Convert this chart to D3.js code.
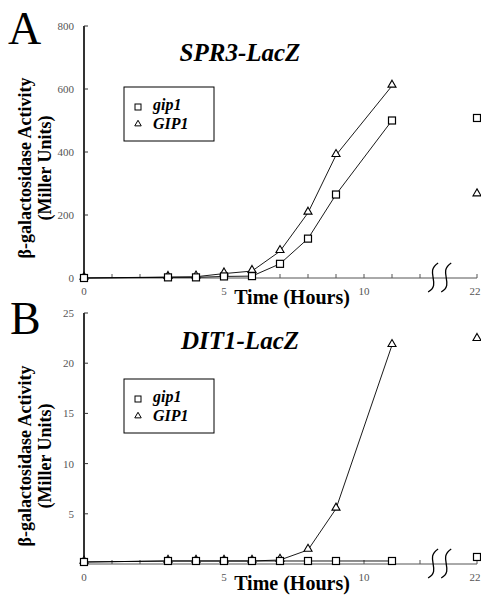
<!DOCTYPE html>
<html>
<head>
<meta charset="utf-8">
<script src="https://cdn.jsdelivr.net/npm/d3@7"></script>
<style>
  body { margin: 0; background: #fff; }
  svg { display: block; }
  svg text { font-family: "Liberation Serif", "DejaVu Serif", serif; }
  .tick-label { font-size: 11px; fill: #555; }
</style>
</head>
<body>
<div id="chart"></div>
<script>
// time points (hours) for the connected series
const hours = [0, 3, 4, 5, 6, 7, 8, 9, 11];
// last sample at 22 h, drawn after the axis break and not connected
const lateHour = 22;

// Panel A: SPR3-LacZ
const spr3Gip1 = [0, 2, 2, 5, 6, 45, 125, 265, 500];
const spr3GIP1 = [0, 3, 4, 14, 22, 85, 207, 390, 610];
const spr3Late = { gip1: 508, GIP1: 265 };

// Panel B: DIT1-LacZ
const dit1Gip1 = [0.2, 0.3, 0.3, 0.3, 0.3, 0.3, 0.3, 0.3, 0.3];
const dit1GIP1 = [0.2, 0.3, 0.3, 0.3, 0.3, 0.4, 1.4, 5.5, 21.8];
const dit1Late = { gip1: 0.7, GIP1: 22.4 };

const xTickLabels = [0, 5, 10, 22];
const xMinorTicks = [1, 2, 3, 4, 5, 6, 7, 8, 9, 10, 11, 12];
const spr3YTicks = [0, 200, 400, 600, 800];
const dit1YTicks = [5, 10, 15, 20, 25];

const width = 481, height = 597;

const svg = d3.select("#chart")
    .append("svg")
    .attr("width", width)
    .attr("height", height);

// broken axis: 0-12 h linear, then compressed up to 22 h
const x = d3.scaleLinear().domain([0, 12, 22]).range([84, 420, 477]);

function drawPanel(p) {
    const y = d3.scaleLinear().domain(p.yDomain).range(p.yRange);
    const g = svg.append("g");

    // panel letter
    g.append("text")
        .attr("x", p.letterX)
        .attr("y", p.letterY)
        .style("font-size", "46px")
        .text(p.letter);

    // title
    g.append("text")
        .attr("x", 240)
        .attr("y", p.titleY)
        .attr("text-anchor", "middle")
        .style("font-size", "25px")
        .style("font-weight", "bold")
        .style("font-style", "italic")
        .text(p.title);

    // y axis
    g.append("line")
        .attr("x1", x(0)).attr("x2", x(0))
        .attr("y1", y(p.yDomain[1])).attr("y2", y(0))
        .attr("stroke", "#333")
        .attr("stroke-width", 2);

    g.selectAll(".ytick")
        .data(p.yTicks)
        .join("line")
        .attr("x1", x(0)).attr("x2", x(0) + 4)
        .attr("y1", d => y(d)).attr("y2", d => y(d))
        .attr("stroke", "#333");

    g.selectAll(".ylab")
        .data(p.yTicks)
        .join("text")
        .attr("class", "tick-label")
        .attr("x", 74)
        .attr("y", d => y(d) + 4)
        .attr("text-anchor", "end")
        .text(d => d);

    // x axis
    const y0 = y(0);
    g.append("line")
        .attr("x1", x(0)).attr("x2", x(lateHour))
        .attr("y1", y0).attr("y2", y0)
        .attr("stroke", "#555")
        .attr("stroke-width", 1);

    g.selectAll(".xtick")
        .data(xMinorTicks.concat([lateHour]))
        .join("line")
        .attr("x1", d => x(d)).attr("x2", d => x(d))
        .attr("y1", y0).attr("y2", y0 - 4)
        .attr("stroke", "#555");

    g.selectAll(".xlab")
        .data(xTickLabels)
        .join("text")
        .attr("class", "tick-label")
        .attr("x", d => d === lateHour ? x(d) - 2 : x(d))
        .attr("y", y0 + 17)
        .attr("text-anchor", "middle")
        .text(d => d);

    // axis break marks
    [14.3, 16.6].forEach(h => {
        const cx = x(h);
        g.append("path")
            .attr("d", `M${cx + 5},${y0 - 15} C${cx - 9},${y0 - 6} ${cx + 9},${y0 + 6} ${cx - 5},${y0 + 14}`)
            .attr("fill", "none")
            .attr("stroke", "#000")
            .attr("stroke-width", 1.3);
    });

    // axis titles
    g.append("text")
        .attr("x", 292)
        .attr("y", y0 + 26)
        .attr("text-anchor", "middle")
        .style("font-size", "20px")
        .style("font-weight", "bold")
        .text("Time (Hours)");

    const yl = g.append("g")
        .attr("transform", `translate(0, ${p.yLabelCenter}) rotate(-90)`);
    yl.append("text")
        .attr("x", 0).attr("y", 31)
        .attr("text-anchor", "middle")
        .style("font-size", "18px")
        .style("font-weight", "bold")
        .text("β-galactosidase Activity");
    yl.append("text")
        .attr("x", 0).attr("y", 51)
        .attr("text-anchor", "middle")
        .style("font-size", "18px")
        .style("font-weight", "bold")
        .text("(Miller Units)");

    // series lines
    const line = d3.line()
        .x((d, i) => x(hours[i]))
        .y(d => y(d));

    [p.gip1, p.GIP1].forEach(s => {
        g.append("path")
            .datum(s)
            .attr("d", line)
            .attr("fill", "none")
            .attr("stroke", "#000")
            .attr("stroke-width", 0.9);
    });

    const tri = d3.symbol().type(d3.symbolTriangle).size(28);

    function triangles(values, hs) {
        g.selectAll(null)
            .data(values)
            .join("path")
            .attr("d", tri)
            .attr("transform", (d, i) => `translate(${x(hs[i])}, ${y(d) - 1})`)
            .attr("fill", "#fff")
            .attr("stroke", "#000")
            .attr("stroke-width", 1.1);
    }
    function squares(values, hs) {
        g.selectAll(null)
            .data(values)
            .join("rect")
            .attr("x", (d, i) => x(hs[i]) - 3.5)
            .attr("y", d => y(d) - 3.5)
            .attr("width", 7)
            .attr("height", 7)
            .attr("fill", "#fff")
            .attr("stroke", "#000")
            .attr("stroke-width", 1.2);
    }

    triangles(p.GIP1, hours);
    squares(p.gip1, hours);
    triangles([p.late.GIP1], [lateHour]);
    squares([p.late.gip1], [lateHour]);

    // legend
    const lg = g.append("g").attr("transform", `translate(124, ${p.legendY})`);
    lg.append("rect")
        .attr("width", 90)
        .attr("height", 54)
        .attr("fill", "#fff")
        .attr("stroke", "#000")
        .attr("stroke-width", 1);
    lg.append("rect")
        .attr("x", 11).attr("y", 17)
        .attr("width", 6).attr("height", 6)
        .attr("fill", "#fff").attr("stroke", "#000");
    lg.append("path")
        .attr("d", d3.symbol().type(d3.symbolTriangle).size(18))
        .attr("transform", "translate(14, 37)")
        .attr("fill", "#fff").attr("stroke", "#000");
    lg.append("text")
        .attr("x", 29).attr("y", 23)
        .style("font-size", "16px")
        .style("font-weight", "bold")
        .style("font-style", "italic")
        .text("gip1");
    lg.append("text")
        .attr("x", 29).attr("y", 42)
        .style("font-size", "16px")
        .style("font-weight", "bold")
        .style("font-style", "italic")
        .text("GIP1");
}

drawPanel({
    letter: "A", letterX: 8, letterY: 44,
    title: "SPR3-LacZ", titleY: 61,
    yDomain: [0, 800], yRange: [278, 26],
    yTicks: spr3YTicks,
    yLabelCenter: 168, legendY: 87,
    gip1: spr3Gip1, GIP1: spr3GIP1, late: spr3Late
});

drawPanel({
    letter: "B", letterX: 10, letterY: 334,
    title: "DIT1-LacZ", titleY: 349,
    yDomain: [0, 25], yRange: [564, 313],
    yTicks: dit1YTicks,
    yLabelCenter: 456, legendY: 379,
    gip1: dit1Gip1, GIP1: dit1GIP1, late: dit1Late
});
</script>
</body>
</html>
